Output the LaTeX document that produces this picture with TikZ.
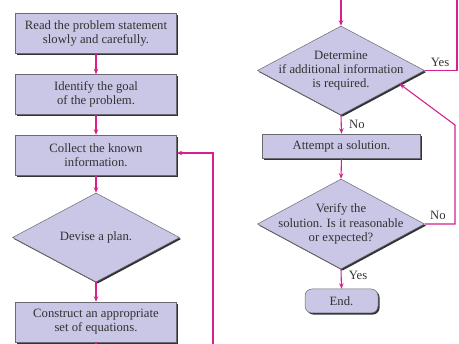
\documentclass[tikz,border=0pt]{standalone}
\usepackage{fontspec}
\setmainfont{Liberation Serif}
\usetikzlibrary{shapes.geometric,shadows,arrows.meta,calc}
\definecolor{fillc}{HTML}{C9C6E6}
\definecolor{pinkc}{HTML}{D6208E}
\definecolor{txtc}{HTML}{333333}
\definecolor{edgec}{HTML}{6A6A72}
\begin{document}
\begin{tikzpicture}[x=1pt,y=-1pt,
  font=\fontsize{12.7}{14.3}\selectfont, text=txtc,
  shad/.style={drop shadow={shadow xshift=1.6pt, shadow yshift=-1.6pt, fill=black!80, opacity=1}},
  box/.style={shad, draw=edgec, line width=0.5pt, fill=fillc, minimum width=161pt,
    minimum height=40pt, align=center, inner sep=0pt},
  dia/.style={shad, diamond, draw=edgec, line width=0.5pt, fill=fillc, minimum width=167pt,
    minimum height=89pt, inner sep=0pt},
  dtext/.style={align=center, text=txtc, inner sep=0pt},
  flow/.style={draw=pinkc, line width=1.1pt, -{Stealth[length=5.5pt,width=4.5pt]}},
  wire/.style={draw=pinkc, line width=1.1pt},
  lab/.style={text=txtc, inner sep=0pt}]
\useasboundingbox (0,0) rectangle (459,344);

% left column
\node[box] (b1) at (96,33.5) {Read the problem statement\\slowly and carefully.};
\node[box] (b2) at (96,94.5) {Identify the goal\\of the problem.};
\node[box] (b3) at (96,155) {Collect the known\\information.};
\node[dia, label={[dtext]center:Devise a plan.}] (dl) at (96,237.5) {};
\node[box] (b5) at (96,322) {Construct an appropriate\\set of equations.};

\coordinate (bot) at (96,344);
\coordinate (fbB) at (213,344);
\coordinate (fbT) at (213,153);

\draw[flow] (b1.south) -- (b2.north);
\draw[flow] (b2.south) -- (b3.north);
\draw[flow] (b3.south) -- (dl.north);
\draw[flow] (dl.south) -- (b5.north);
\draw[wire] (b5.south) -- (bot);
\draw[flow] (fbB) -- (fbT) -- (b3.east |- fbT);

% right column
\node[dia, label={[dtext]center:Determine\\if additional information\\is required.}] (d1) at (341,70.5) {};
\node[box, minimum width=158pt, minimum height=24pt] (a1) at (341.5,146) {Attempt a solution.};
\node[dia, minimum height=90pt, label={[dtext]center:Verify the\\solution. Is it reasonable\\or expected?}] (d2) at (341,224) {};
\node[box, rounded corners=7pt, minimum width=73pt, minimum height=24pt] (e) at (341.5,301) {End.};

\coordinate (top) at (341,0);
\coordinate (yr) at (457,70.5);
\coordinate (yt) at (457,0);
\coordinate (nr) at (455,224);
\coordinate (nt) at (455,125);
\coordinate (tip) at ($(d1.east)!0.3!(d1.south)$);

\draw[flow] (top) -- (d1.north);
\draw[wire] (d1.east) -- (yr) -- (yt);
\draw[flow] (d1.south) -- (a1.north);
\draw[flow] (a1.south) -- (d2.north);
\draw[flow] (d2.east) -- (nr) -- (nt) -- (tip);
\draw[flow] (d2.south) -- (e.north);

\node[lab] (ly1) at (440,62) {Yes};
\node[lab] (ln1) at (357,124) {No};
\node[lab] (ln2) at (438,215) {No};
\node[lab] (ly2) at (358,275) {Yes};
\end{tikzpicture}
\end{document}
